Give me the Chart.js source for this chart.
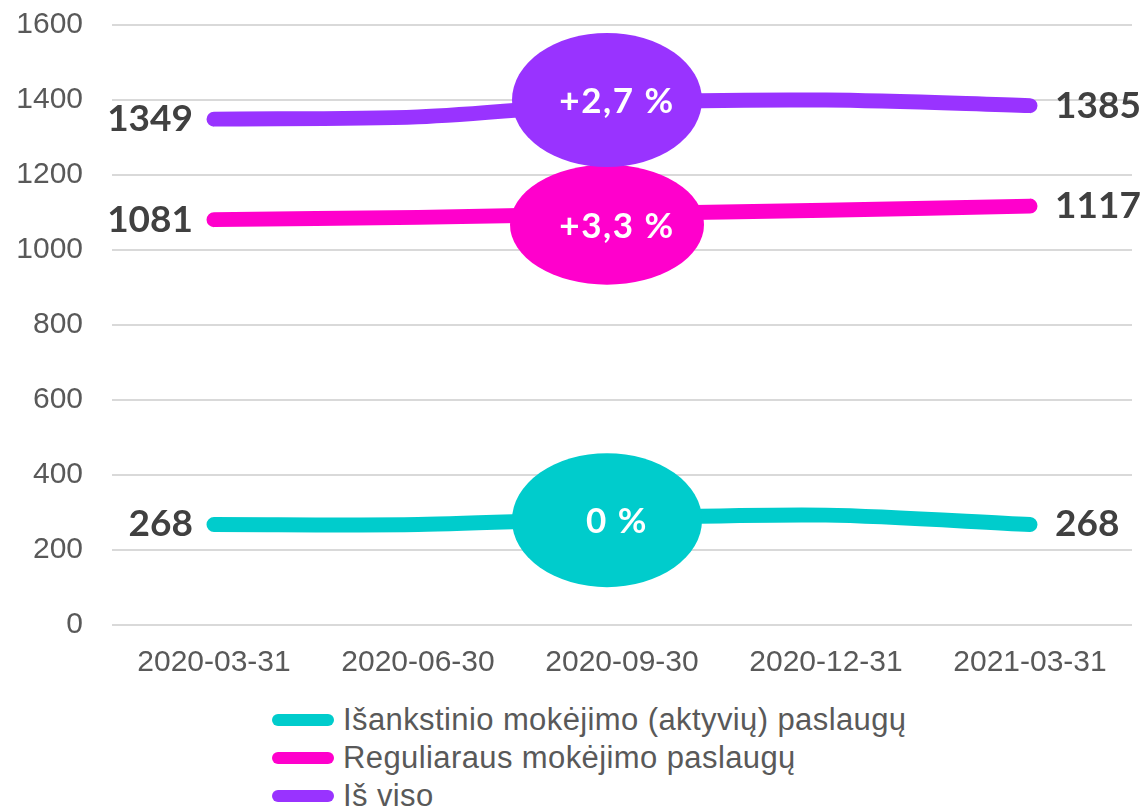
<!DOCTYPE html>
<html>
<head>
<meta charset="utf-8">
<script src="https://cdn.jsdelivr.net/npm/chart.js@4/dist/chart.umd.min.js"></script>
<style>
  body { margin: 0; background: #fff; }
  #wrap { position: relative; width: 1145px; height: 808px; }
  #box { position: absolute; left: 0; top: 0; width: 1145px; height: 700px; }
  #legend { position: absolute; left: 272px; top: 701px; font: 31px "Liberation Sans", Arial, sans-serif; letter-spacing: 0.4px; color: #595959; }
  #legend div { height: 38px; line-height: 38px; display: flex; align-items: center; white-space: nowrap; }
  #legend span.sw { display: inline-block; width: 62px; height: 12px; border-radius: 6px; margin-right: 9px; }
</style>
</head>
<body>
<div id="wrap">
  <div id="box"><canvas id="lineChart"></canvas></div>
  <div id="legend"></div>
</div>
<script>
const labels = ['2020-03-31', '2020-06-30', '2020-09-30', '2020-12-31', '2021-03-31'];
const prepaid = [268, 268, 285, 293, 268];
const postpaid = [1081, 1087, 1097, 1106, 1117];
const total = [1349, 1355, 1392, 1400, 1385];
const seriesNames = ['Išankstinio mokėjimo (aktyvių) paslaugų', 'Reguliaraus mokėjimo paslaugų', 'Iš viso'];
const changeLabels = ['0 %', '+3,3 %', '+2,7 %'];
const colors = ['#00CCCC', '#FF00CC', '#9933FF'];

// value labels at both ends of every line
const endLabels = {
    id: 'endLabels',
    afterDatasetsDraw(chart) {
        const ctx = chart.ctx;
        ctx.save();
        ctx.font = 'bold 37px Lato, "Open Sans", sans-serif';
        ctx.fillStyle = '#404040';
        ctx.textBaseline = 'middle';
        chart.data.datasets.forEach((ds, i) => {
            const pts = chart.getDatasetMeta(i).data;
            const first = pts[0], last = pts[pts.length - 1];
            ctx.textAlign = 'right';
            ctx.fillText(ds.data[0], first.x - 21, first.y);
            ctx.textAlign = 'left';
            ctx.fillText(ds.data[ds.data.length - 1], last.x + 25, last.y);
        });
        ctx.restore();
    }
};

// change badges on the middle point
const badges = {
    id: 'badges',
    afterDatasetsDraw(chart, args, opts) {
        const ctx = chart.ctx;
        ctx.save();
        chart.data.datasets.forEach((ds, i) => {
            const p = chart.getDatasetMeta(i).data[opts.index];
            const cx = p.x - 15, cy = p.y + opts.dy[i];
            ctx.beginPath();
            ctx.ellipse(cx, cy, opts.rx[i], opts.ry[i], 0, 0, Math.PI * 2);
            ctx.fillStyle = ds.borderColor;
            ctx.fill();
            ctx.fillStyle = '#fff';
            ctx.font = 'bold 35px Lato, "Open Sans", sans-serif';
            ctx.letterSpacing = '1.5px';
            ctx.textAlign = 'center';
            ctx.textBaseline = 'middle';
            ctx.fillText(changeLabels[i], cx + 10, cy + 2);
        });
        ctx.restore();
    }
};

const ctx = document.getElementById('lineChart');
const chart = new Chart(ctx, {
    type: 'line',
    data: {
        labels: labels,
        datasets: [prepaid, postpaid, total].map((d, i) => ({
            label: seriesNames[i],
            data: d,
            borderColor: colors[i],
            backgroundColor: colors[i],
            borderWidth: 15,
            borderCapStyle: 'round',
            borderJoinStyle: 'round',
            pointRadius: 0,
            tension: 0.3,
            fill: false
        }))
    },
    options: {
        responsive: true,
        maintainAspectRatio: false,
        animation: false,
        layout: { padding: { top: 25, right: 13, left: 0, bottom: 0 } },
        plugins: {
            legend: { display: false },
            tooltip: { enabled: false },
            badges: { index: 2, dy: [2, 11, -3], rx: [95, 97, 95], ry: [67, 60, 67] }
        },
        scales: {
            x: {
                offset: true,
                grid: { display: false, drawTicks: false },
                border: { display: false },
                ticks: {
                    color: '#595959',
                    padding: 20,
                    maxRotation: 0,
                    font: { family: '"Liberation Sans", Arial', size: 30 }
                },
                afterFit(scale) { scale.height = 75; }
            },
            y: {
                min: 0,
                max: 1600,
                grid: { color: '#D9D9D9', lineWidth: 2, drawTicks: false },
                border: { display: false },
                ticks: {
                    stepSize: 200,
                    color: '#595959',
                    padding: 29,
                    font: { family: '"Liberation Sans", Arial', size: 30 },
                    callback: v => String(v)
                },
                afterFit(scale) {
                    scale.width = 112;
                    scale.paddingTop = 0;
                    scale.paddingBottom = 0;
                }
            }
        }
    },
    plugins: [endLabels, badges]
});

// legend below the chart, one series per row
const legendEl = document.getElementById('legend');
chart.data.datasets.forEach(ds => {
    const row = document.createElement('div');
    const sw = document.createElement('span');
    sw.className = 'sw';
    sw.style.background = ds.borderColor;
    row.appendChild(sw);
    row.appendChild(document.createTextNode(ds.label));
    legendEl.appendChild(row);
});
</script>
</body>
</html>
